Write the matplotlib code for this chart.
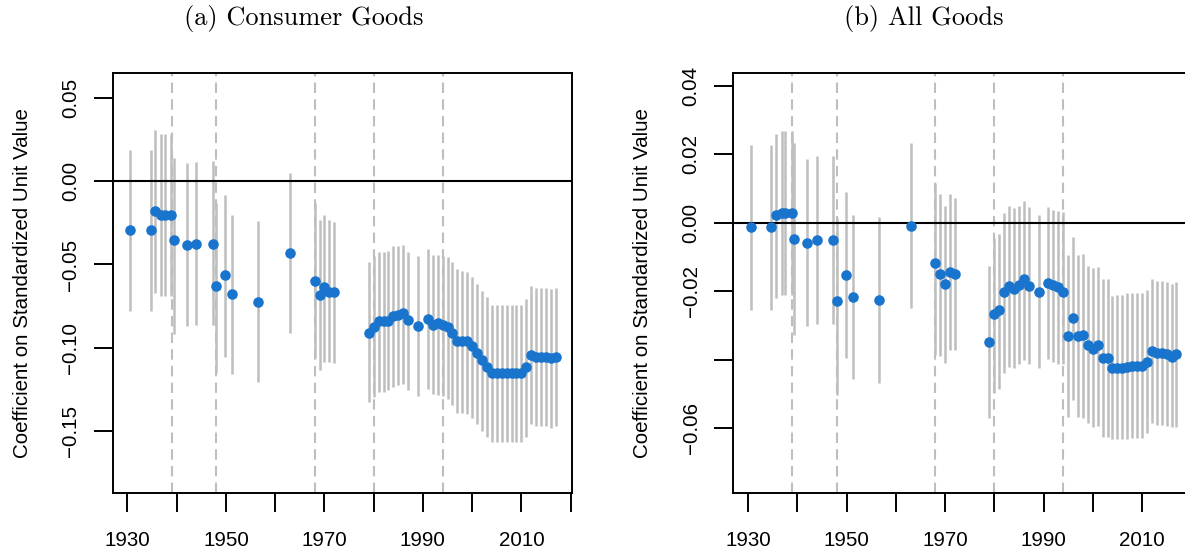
import numpy as np
import matplotlib
matplotlib.use("Agg")
import matplotlib.pyplot as plt

plt.rcParams['font.family'] = ['Liberation Sans', 'DejaVu Sans']

# years of the estimates (same for both panels)
years = [1930.5, 1934.7, 1935.6, 1936.8, 1937.6, 1938.9, 1939.4, 1942, 1944, 1947.3,
         1948, 1949.8, 1951.3, 1956.5, 1963, 1968, 1969, 1970, 1971, 1972,
         1979, 1980, 1981, 1982, 1983, 1984, 1985, 1986, 1987, 1989,
         1991, 1992, 1993, 1994, 1995, 1996, 1997, 1998, 1999, 2000,
         2001, 2002, 2003, 2004, 2005, 2006, 2007, 2008, 2009, 2010,
         2011, 2012, 2013, 2014, 2015, 2016, 2017]

# (a) consumer goods: coefficient, lower and upper bound
coef_a = [-0.0295, -0.0295, -0.0177, -0.0200, -0.0200, -0.0200, -0.0351, -0.0381, -0.0375, -0.0375,
          -0.0628, -0.0566, -0.0678, -0.0723, -0.0428, -0.0598, -0.0683, -0.0638, -0.0666, -0.0666,
          -0.0910, -0.0877, -0.0843, -0.0840, -0.0840, -0.0809, -0.0803, -0.0793, -0.0837, -0.0873,
          -0.0829, -0.0865, -0.0853, -0.0865, -0.0877, -0.0913, -0.0958, -0.0958, -0.0958, -0.0990,
          -0.1034, -0.1074, -0.1114, -0.1154, -0.1154, -0.1154, -0.1154, -0.1154, -0.1154, -0.1154,
          -0.1114, -0.1044, -0.1058, -0.1058, -0.1058, -0.1064, -0.1054]
lo_a = [-0.0780, -0.0780, -0.0669, -0.0689, -0.0689, -0.0689, -0.0920, -0.0870, -0.0863, -0.0863,
        -0.1154, -0.1054, -0.1160, -0.1208, -0.0913, -0.1064, -0.1134, -0.1084, -0.1084, -0.1094,
        -0.1325, -0.1295, -0.1270, -0.1270, -0.1253, -0.1235, -0.1225, -0.1221, -0.1255, -0.1291,
        -0.1251, -0.1279, -0.1285, -0.1291, -0.1311, -0.1345, -0.1391, -0.1391, -0.1400, -0.1425,
        -0.1460, -0.1500, -0.1536, -0.1566, -0.1566, -0.1566, -0.1566, -0.1566, -0.1566, -0.1566,
        -0.1536, -0.1460, -0.1474, -0.1474, -0.1474, -0.1482, -0.1474]
hi_a = [0.0190, 0.0190, 0.0307, 0.0285, 0.0285, 0.0285, 0.0141, 0.0110, 0.0117, 0.0120,
        -0.0130, -0.0080, -0.0200, -0.0240, 0.0050, -0.0130, -0.0231, -0.0200, -0.0231, -0.0247,
        -0.0488, -0.0452, -0.0425, -0.0425, -0.0417, -0.0391, -0.0387, -0.0381, -0.0425, -0.0452,
        -0.0407, -0.0442, -0.0442, -0.0448, -0.0456, -0.0488, -0.0528, -0.0538, -0.0546, -0.0576,
        -0.0616, -0.0657, -0.0697, -0.0743, -0.0743, -0.0743, -0.0743, -0.0743, -0.0743, -0.0743,
        -0.0707, -0.0632, -0.0642, -0.0642, -0.0642, -0.0648, -0.0642]

# (b) all goods
coef_b = [-0.0012, -0.0012, 0.0022, 0.0029, 0.0029, 0.0029, -0.0046, -0.0058, -0.0049, -0.0049,
          -0.0228, -0.0153, -0.0216, -0.0226, -0.0009, -0.0117, -0.0150, -0.0179, -0.0143, -0.0148,
          -0.0347, -0.0265, -0.0255, -0.0203, -0.0185, -0.0192, -0.0182, -0.0165, -0.0185, -0.0201,
          -0.0175, -0.0182, -0.0187, -0.0203, -0.0331, -0.0279, -0.0331, -0.0328, -0.0357, -0.0367,
          -0.0357, -0.0396, -0.0396, -0.0425, -0.0425, -0.0425, -0.0420, -0.0418, -0.0418, -0.0418,
          -0.0406, -0.0375, -0.0380, -0.0381, -0.0383, -0.0391, -0.0383]
lo_b = [-0.0253, -0.0253, -0.0218, -0.0211, -0.0211, -0.0211, -0.0328, -0.0302, -0.0294, -0.0294,
        -0.0503, -0.0396, -0.0457, -0.0469, -0.0250, -0.0386, -0.0389, -0.0409, -0.0372, -0.0372,
        -0.0571, -0.0498, -0.0484, -0.0438, -0.0420, -0.0425, -0.0411, -0.0401, -0.0413, -0.0425,
        -0.0399, -0.0406, -0.0411, -0.0413, -0.0566, -0.0516, -0.0568, -0.0571, -0.0586, -0.0596,
        -0.0594, -0.0625, -0.0625, -0.0632, -0.0632, -0.0632, -0.0630, -0.0628, -0.0628, -0.0628,
        -0.0615, -0.0586, -0.0591, -0.0591, -0.0594, -0.0597, -0.0596]
hi_b = [0.0227, 0.0227, 0.0261, 0.0269, 0.0269, 0.0269, 0.0234, 0.0186, 0.0196, 0.0196,
        0.0013, 0.0089, 0.0022, 0.0016, 0.0234, 0.0118, 0.0086, 0.0050, 0.0086, 0.0074,
        -0.0126, -0.0043, -0.0031, 0.0029, 0.0049, 0.0045, 0.0050, 0.0064, 0.0047, 0.0022,
        0.0047, 0.0037, 0.0035, 0.0032, -0.0094, -0.0041, -0.0094, -0.0092, -0.0126, -0.0133,
        -0.0128, -0.0165, -0.0165, -0.0214, -0.0211, -0.0211, -0.0206, -0.0206, -0.0206, -0.0206,
        -0.0195, -0.0164, -0.0170, -0.0170, -0.0174, -0.0179, -0.0174]

# dashed reference years
breaks = [1939, 1948, 1968, 1980, 1994]

xticks = [1930, 1940, 1950, 1960, 1970, 1980, 1990, 2000, 2010, 2020]
xlabels = ['1930', '', '1950', '', '1970', '', '1990', '', '2010', '']

yticks_a = [-0.15, -0.10, -0.05, 0.00, 0.05]
ylabels_a = ['\u22120.15', '\u22120.10', '\u22120.05', '0.00', '0.05']
yticks_b = [-0.06, -0.04, -0.02, 0.00, 0.02, 0.04]
ylabels_b = ['\u22120.06', '', '\u22120.02', '0.00', '0.02', '0.04']

blue = '#1874CD'
grey = '#BEBEBE'


def panel(ax, coef, lo, hi, ylim, yticks, ylabels):
    for b in breaks:
        ax.axvline(b, color=grey, lw=1.5, ls=(0, (5, 3)), zorder=1)
    ax.vlines(years, lo, hi, color=grey, lw=1.8, zorder=2)
    ax.axhline(0, color='black', lw=1.5, zorder=3)
    ax.plot(years, coef, 'o', color=blue, ms=7.6, mec='none', zorder=4)
    ax.set_xlim(1927.0, 2020.2)
    ax.set_ylim(*ylim)
    ax.set_xticks(xticks)
    ax.set_xticklabels(xlabels)
    ax.set_yticks(yticks)
    ax.set_yticklabels(ylabels, rotation=90, va='center')
    ax.tick_params(direction='out', length=13.5, width=1.4, labelsize=14.8, pad=10)
    ax.tick_params(axis='x', pad=14)
    for s in ax.spines.values():
        s.set_linewidth(1.4)
    ax.set_ylabel('Coefficient on Standardized Unit Value', fontsize=14.8, va='center')
    ax.yaxis.set_label_coords(-0.197, 0.5)


fig = plt.figure(figsize=(11.85, 5.5), dpi=100)
ax1 = fig.add_axes([0.0951, 0.1031, 0.3873, 0.7647])
ax2 = fig.add_axes([0.6188, 0.1031, 0.3873, 0.7647])

panel(ax1, coef_a, lo_a, hi_a, (-0.1877, 0.0654), yticks_a, ylabels_a)
panel(ax2, coef_b, lo_b, hi_b, (-0.0790, 0.0439), yticks_b, ylabels_b)

fig.text(304 / 1185, 1 - 19 / 550, '(a) Consumer Goods', family='cmr10',
         fontsize=19, ha='center', va='center')
fig.text(924 / 1185, 1 - 19 / 550, '(b) All Goods', family='cmr10',
         fontsize=19, ha='center', va='center')

fig.savefig('out.png', dpi=100)
